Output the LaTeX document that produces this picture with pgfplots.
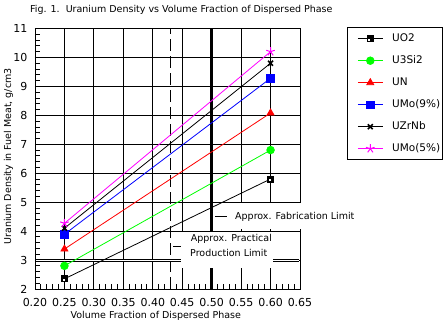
\documentclass[border=0pt]{standalone}
\usepackage{fontspec}
\setmainfont{DejaVu Sans}
\usepackage{pgfplots}
\pgfplotsset{compat=1.18}
\usetikzlibrary{plotmarks}
\definecolor{pgreen}{RGB}{0,255,0}
\definecolor{pblue}{RGB}{0,0,255}
\definecolor{pred}{RGB}{255,0,0}
\definecolor{pmag}{RGB}{255,0,255}
\pgfdeclareplotmark{uosq}{%
  \pgfpathrectangle{\pgfpoint{-\pgfplotmarksize}{-\pgfplotmarksize}}{\pgfpoint{2\pgfplotmarksize}{2\pgfplotmarksize}}%
  \pgfsetfillcolor{black}\pgfusepathqfill
  \pgfpathrectangle{\pgfpoint{-0.55\pgfplotmarksize}{-0.55\pgfplotmarksize}}{\pgfpoint{0.6\pgfplotmarksize}{0.6\pgfplotmarksize}}%
  \pgfsetfillcolor{white}\pgfusepathqfill
}
\begin{document}
\begin{tikzpicture}[x=1pt,y=1pt]
\useasboundingbox (0,0) rectangle (445,323);
\begin{axis}[
  at={(35pt,34pt)}, anchor=south west,
  width=265pt, height=260.5pt, scale only axis,
  xmin=0.2, xmax=0.65, ymin=2, ymax=11,
  xtick={0.2,0.25,0.3,0.35,0.4,0.45,0.5,0.55,0.6,0.65},
  xticklabels={0.20,0.25,0.30,0.35,0.40,0.45,0.50,0.55,0.60,0.65},
  ytick={2,3,4,5,6,7,8,9,10,11},
  minor x tick num=4, minor y tick num=4,
  tick pos=left, tick align=inside,
  major tick length=0pt, minor tick length=5pt,
  grid=major, major grid style={black, line width=0.8pt},
  axis line style={line width=0.8pt},
  every tick/.style={black, line width=0.8pt},
  /pgf/number format/assume math mode=true,
  ticklabel style={font=\fontsize{11}{13}\selectfont},
  yticklabel style={anchor=east, inner sep=0pt, xshift=-7.5pt},
  xticklabel style={anchor=north, inner sep=0pt, yshift=-9pt},
  xlabel={Volume Fraction of Dispersed Phase},
  xlabel style={at={(axis description cs:0.456,0)}, anchor=base, yshift=-29.5pt, font=\fontsize{9.5}{11}\selectfont},
  legend style={at={(axis description cs:1.1774,1.0046)}, anchor=north west, draw=black, line width=0.8pt,
    inner xsep=2pt, inner ysep=0pt, font=\fontsize{10.5}{12}\selectfont,
    nodes={inner sep=0pt, minimum height=22pt}, column sep=9pt},
  legend cell align=left,
  legend image code/.code={\path (0pt,0pt); \draw[mark repeat=2,mark phase=2] plot coordinates {(8pt,0pt) (20.5pt,0pt) (33pt,0pt)};},
  every axis plot/.append style={line width=0.8pt},
]
% reference lines
\addplot[forget plot, black, line width=2.5pt] coordinates {(0.5,2) (0.5,11)};
\addplot[forget plot, black, line width=0.9pt, dash pattern=on 12pt off 5pt] coordinates {(0.43,2) (0.43,11)};
\addplot[forget plot, black, line width=0.9pt, double=white, double distance=1.1pt] coordinates {(0.2015,3) (0.6485,3)};
% data
\addplot[black, mark=uosq, mark size=3.5pt, mark options={solid}] coordinates {(0.25,2.35) (0.6,5.8)};
\addlegendentry{UO2}
\addplot[pgreen, mark=*, mark size=3.8pt, mark options={solid, fill=pgreen, draw=pgreen}] coordinates {(0.25,2.8) (0.6,6.8)};
\addlegendentry{U3Si2}
\addplot[pred, mark=triangle*, mark size=4pt, mark options={solid, fill=pred, draw=pred}] coordinates {(0.25,3.38) (0.6,8.08)};
\addlegendentry{UN}
\addplot[pblue, mark=square*, mark size=3.7pt, mark options={solid, fill=pblue, draw=pblue}] coordinates {(0.25,3.89) (0.6,9.28)};
\addlegendentry{UMo(9\%)}
\addplot[black, mark=x, mark size=3.5pt, mark options={solid, line width=1.6pt}] coordinates {(0.25,4.1) (0.6,9.8)};
\addlegendentry{UZrNb}
\addplot[pmag, mark=star, mark size=4.5pt, mark options={solid, line width=1pt}] coordinates {(0.25,4.27) (0.6,10.2)};
\addlegendentry{UMo(5\%)}
\end{axis}
% title and y label
\node[anchor=base west, inner sep=0pt, font=\fontsize{9.5}{11}\selectfont] at (30,310.5) {Fig. 1.\ \ Uranium Density vs Volume Fraction of Dispersed Phase};
\node[rotate=90, inner sep=0pt, font=\fontsize{9.5}{11}\selectfont] at (8.5,166.5) {Uranium Density in Fuel Meat, g/cm3};
% fabrication limit label
\fill[white] (230,94) rectangle (352,119.5);
\draw[black, line width=0.9pt] (215,107) -- (227,107);
\node[anchor=base west, inner sep=0pt, font=\fontsize{9.5}{11}\selectfont] at (235,103.7) {Approx. Fabrication Limit};
% production limit label
\fill[white] (181.3,55) rectangle (273,91);
\draw[black, line width=0.9pt] (173,77) -- (181.3,77);
\node[anchor=base west, inner sep=0pt, font=\fontsize{9.5}{11}\selectfont] at (190.7,81.3) {Approx. Practical};
\node[anchor=base west, inner sep=0pt, font=\fontsize{9.5}{11}\selectfont] at (190,66.3) {Production Limit};
\end{tikzpicture}
\end{document}
